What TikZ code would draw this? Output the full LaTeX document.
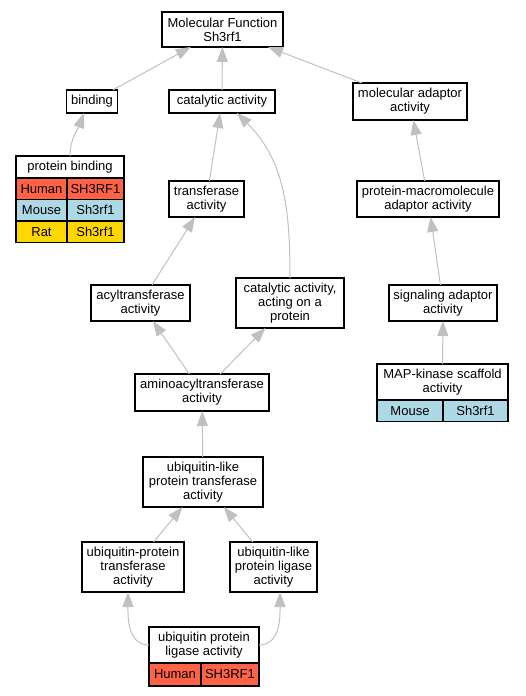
\documentclass[tikz,border=0pt]{standalone}
\usepackage{fontspec}
\setmainfont{Liberation Sans}
\usetikzlibrary{shapes,arrows.meta,positioning}

\definecolor{human}{HTML}{FF6347}
\definecolor{mouse}{HTML}{ADD8E6}
\definecolor{rat}{HTML}{FFD700}
\definecolor{aresta}{HTML}{C0C0C0}

\begin{document}
\begin{tikzpicture}[
                x=1pt, y=1pt,
                every node/.style={
                        rectangle,
                        draw,
                        fill=white,
                        align=center,
                        inner sep=0pt,
                        outer sep=0pt,
                        line width=1.1pt,
                        font=\fontsize{13}{14}\selectfont
                    },
                cel/.style={minimum height=21.5},
                seta/.style={draw=aresta, line width=1pt, -{Triangle[length=15pt,width=11pt]}}
            ]

            \useasboundingbox (0,0) rectangle (525,-696);

            % Termos posicionados manualmente
            \node[minimum width=121, minimum height=35] (mf) at (222.5,-29.5) {Molecular Function\\Sh3rf1};
            \node[minimum width=51, minimum height=23] (binding) at (92,-101.5) {binding};
            \node[minimum width=106, minimum height=23] (cat) at (222,-101.5) {catalytic activity};
            \node[minimum width=114, minimum height=37] (molad) at (410,-101.5) {molecular adaptor\\activity};
            \node[minimum width=75, minimum height=36] (transf) at (206.5,-199) {transferase\\activity};
            \node[minimum width=142, minimum height=36] (pmacro) at (428,-199) {protein-macromolecule\\adaptor activity};
            \node[minimum width=99, minimum height=36] (acyl) at (140.5,-303) {acyltransferase\\activity};
            \node[minimum width=108, minimum height=50] (catprot) at (290,-303) {catalytic activity,\\acting on a\\protein};
            \node[minimum width=108, minimum height=36] (signal) at (443,-303) {signaling adaptor\\activity};
            \node[minimum width=134, minimum height=37] (amino) at (202,-392.5) {aminoacyltransferase\\activity};
            \node[minimum width=120, minimum height=50] (ulpt) at (203,-482) {ubiquitin-like\\protein transferase\\activity};
            \node[minimum width=102, minimum height=50] (upt) at (133,-567) {ubiquitin-protein\\transferase\\activity};
            \node[minimum width=87, minimum height=50] (ulpl) at (273.5,-567) {ubiquitin-like\\protein ligase\\activity};

            % Tabelas com os genes
            \node[minimum width=108, minimum height=22] (pbind) at (70,-167) {protein binding};
            \node[cel, fill=human, minimum width=51, anchor=north west] (pbhum) at (pbind.south west) {Human};
            \node[cel, fill=human, minimum width=57, right=0pt of pbhum] (pbhumg) {SH3RF1};
            \node[cel, fill=mouse, minimum width=51, below=0pt of pbhum] (pbmou) {Mouse};
            \node[cel, fill=mouse, minimum width=57, right=0pt of pbmou] (pbmoug) {Sh3rf1};
            \node[cel, fill=rat, minimum width=51, below=0pt of pbmou] (pbrat) {Rat};
            \node[cel, fill=rat, minimum width=57, right=0pt of pbrat] (pbratg) {Sh3rf1};

            \node[minimum width=131, minimum height=36] (mapk) at (442.5,-382) {MAP-kinase scaffold\\activity};
            \node[cel, fill=mouse, minimum width=66, anchor=north west] (mkmou) at (mapk.south west) {Mouse};
            \node[cel, fill=mouse, minimum width=65, right=0pt of mkmou] (mkmoug) {Sh3rf1};

            \node[minimum width=110, minimum height=36] (upl) at (204,-645) {ubiquitin protein\\ligase activity};
            \node[cel, fill=human, minimum width=52, minimum height=23, anchor=north west] (uplhum) at (upl.south west) {Human};
            \node[cel, fill=human, minimum width=58, minimum height=23, right=0pt of uplhum] (uplhumg) {SH3RF1};

            % Setas do filho para o pai
            \draw[seta] (binding) -- (mf);
            \draw[seta] (cat) -- (mf);
            \draw[seta] (molad) -- (mf);
            \draw[seta] (pbind.north) to[out=90, in=-110] ([xshift=-8]binding.south);
            \draw[seta] (transf) -- (cat);
            \draw[seta] (catprot.north) to[out=90, in=-45] ([xshift=15]cat.south);
            \draw[seta] (pmacro) -- (molad);
            \draw[seta] (acyl) -- (transf);
            \draw[seta] (signal) -- (pmacro);
            \draw[seta] (amino) -- (acyl);
            \draw[seta] (amino) -- (catprot);
            \draw[seta] (mapk) -- (signal);
            \draw[seta] (ulpt) -- (amino);
            \draw[seta] (upt) -- (ulpt);
            \draw[seta] (ulpl) -- (ulpt);
            \draw[seta] (upl.west) to[out=180, in=-90] ([xshift=-5]upt.south);
            \draw[seta] (upl.east) to[out=0, in=-90] ([xshift=6.5]ulpl.south);

        \end{tikzpicture}
\end{document}
